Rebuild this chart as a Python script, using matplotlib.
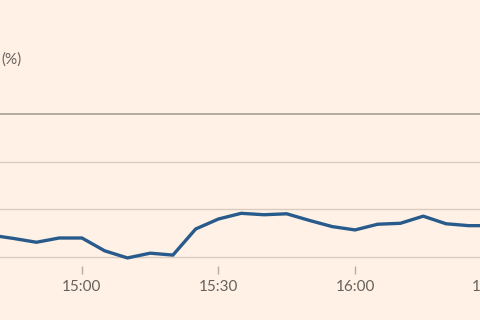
import matplotlib.pyplot as plt

# minutes after 14:00, 5-minute points
minutes = [40, 45, 50, 55, 60, 65, 70, 75, 80, 85, 90, 95, 100, 105,
           110, 115, 120, 125, 130, 135, 140, 145, 150]
values = [-2.55, -2.62, -2.70, -2.61, -2.61, -2.88, -3.03, -2.93, -2.97,
          -2.42, -2.21, -2.09, -2.12, -2.10, -2.24, -2.37, -2.44, -2.32,
          -2.30, -2.15, -2.31, -2.35, -2.35]

tick_pos = [60, 90, 120, 150]
tick_labels = ['15:00', '15:30', '16:00', '16:30']
grid_vals = [-1, -2, -3]

bg = '#fff1e5'
text_col = '#66605c'

fig = plt.figure(figsize=(4.8, 3.2), dpi=100, facecolor=bg)
# axes runs past the right edge so the chart looks cropped
ax = fig.add_axes([0.0, 0.16875, 514.25 / 480, 0.534])
ax.set_facecolor(bg)

for g in grid_vals:
    ax.axhline(g, color='#d9cbbe', lw=1.0, zorder=1)
ax.axhline(0, color='#a79f98', lw=1.2, zorder=1)

ax.plot(minutes, values, color='#285b8c', lw=2.4, solid_joinstyle='round', zorder=3)

ax.set_xlim(42, 155)
ax.set_ylim(-3.2, 0.4)
ax.set_xticks(tick_pos)
ax.set_xticklabels(tick_labels, fontfamily='Lato', fontsize=11, color=text_col)
ax.tick_params(axis='x', length=6, width=1, color='#b3aaa2', pad=4)
ax.set_yticks([])
for s in ax.spines.values():
    s.set_visible(False)

fig.text(0.002, 1 - 60 / 320, '(%)', fontfamily='Lato', fontsize=11,
         color=text_col, ha='left', va='center')

fig.savefig('out.png', dpi=100, facecolor=bg)
